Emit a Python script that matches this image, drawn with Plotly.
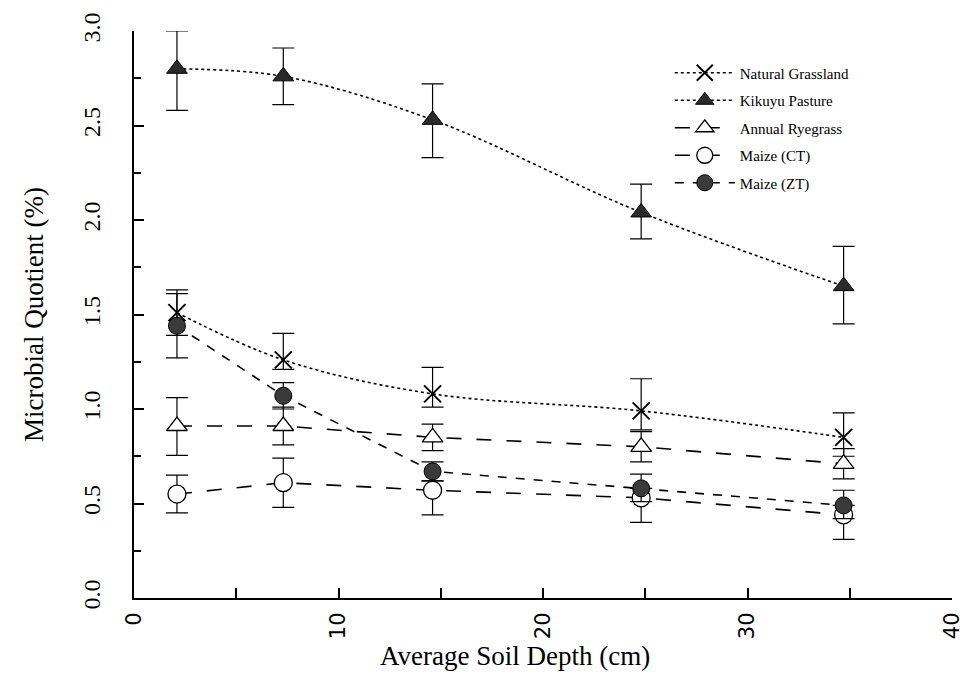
import plotly.graph_objects as go

depth = [2.1, 7.3, 14.6, 24.8, 34.7]

ng = [1.51, 1.26, 1.08, 0.99, 0.85]
ng_up = [0.12, 0.14, 0.14, 0.17, 0.13]
ng_dn = [0.12, 0.05, 0.07, 0.10, 0.10]

kp = [2.80, 2.76, 2.53, 2.04, 1.65]
kp_up = [0.20, 0.15, 0.19, 0.15, 0.21]
kp_dn = [0.22, 0.15, 0.20, 0.14, 0.20]

ar = [0.91, 0.91, 0.85, 0.80, 0.71]
ar_up = [0.15, 0.10, 0.07, 0.08, 0.08]
ar_dn = [0.155, 0.10, 0.07, 0.08, 0.08]

ct = [0.55, 0.61, 0.57, 0.53, 0.44]
ct_up = [0.10, 0.13, 0.05, 0.05, 0.05]
ct_dn = [0.10, 0.13, 0.13, 0.13, 0.13]

zt = [1.44, 1.07, 0.67, 0.58, 0.49]
zt_up = [0.17, 0.07, 0.05, 0.075, 0.08]
zt_dn = [0.17, 0.07, 0.05, 0.07, 0.07]

FONT = "Liberation Serif"

fig = go.Figure()

def add(name, y, up, dn, dash, shape, marker):
    fig.add_trace(go.Scatter(
        x=depth, y=y, name=name, legendgroup=name, mode="lines+markers",
        line=dict(color="black", width=1.6, dash=dash, shape=shape),
        marker=marker,
        error_y=dict(type="data", symmetric=False, array=up, arrayminus=dn,
                     color="black", thickness=1.2, width=11),
    ))

add("Natural Grassland", ng, ng_up, ng_dn, "dot", "spline",
    dict(symbol="x-thin-open", size=17, color="black", line=dict(width=2, color="black")))
add("Kikuyu Pasture", kp, kp_up, kp_dn, "dot", "spline",
    dict(symbol="triangle-up", size=18, color="#2a2a2a", line=dict(width=1, color="black")))
add("Annual Ryegrass", ar, ar_up, ar_dn, "longdash", "linear",
    dict(symbol="triangle-up", size=18, color="white", line=dict(width=1.3, color="black")))
add("Maize (CT)", ct, ct_up, ct_dn, "longdash", "linear",
    dict(symbol="circle", size=18, color="white", line=dict(width=1.3, color="black")))
add("Maize (ZT)", zt, zt_up, zt_dn, "dash", "linear",
    dict(symbol="circle", size=17, color="#3a3a3a", line=dict(width=1, color="black")))

fig.update_layout(
    width=976, height=679,
    margin=dict(l=134, r=23, t=22, b=81),
    paper_bgcolor="white", plot_bgcolor="white",
    font=dict(family=FONT, color="black"),
    showlegend=True,
    legend=dict(x=0.655, y=0.955, xanchor="left", yanchor="top",
                font=dict(family=FONT, size=15), bgcolor="rgba(0,0,0,0)",
                tracegroupgap=5, itemwidth=60),
    annotations=[dict(text="Average Soil Depth (cm)", xref="paper", yref="paper",
                      x=0.466, y=-0.102, xanchor="center", yanchor="middle",
                      showarrow=False, font=dict(family=FONT, size=27))],
)
fig.update_xaxes(
    range=[0, 40], tickvals=[0, 10, 20, 30, 40], tickangle=-90,
    ticks="inside", ticklen=10, tickwidth=1.5, tickcolor="black",
    minor=dict(ticks="inside", tickvals=[5, 15, 25, 35], ticklen=10, tickcolor="black"),
    showline=True, linecolor="black", linewidth=2, showgrid=False, zeroline=False,
    tickfont=dict(family="DejaVu Sans", size=21),
    ticklabelstandoff=4,
)
fig.update_yaxes(
    range=[0, 3.0], tickvals=[0, 0.5, 1.0, 1.5, 2.0, 2.5, 3.0], ticktext=["0.0", "0.5", "1.0", "1.5", "2.0", "2.5", "3.0"],
    tickangle=-90,
    ticks="inside", ticklen=10, tickwidth=1.5, tickcolor="black",
    minor=dict(ticks="inside", tickvals=[0.25, 0.75, 1.25, 1.75, 2.25, 2.75], ticklen=7, tickcolor="black"),
    showline=True, linecolor="black", linewidth=2, showgrid=False, zeroline=False,
    tickfont=dict(family=FONT, size=24),
    ticklabelstandoff=22,
    title=dict(text="Microbial Quotient (%)", font=dict(family=FONT, size=27), standoff=28),
)

fig.write_html("out.html")
